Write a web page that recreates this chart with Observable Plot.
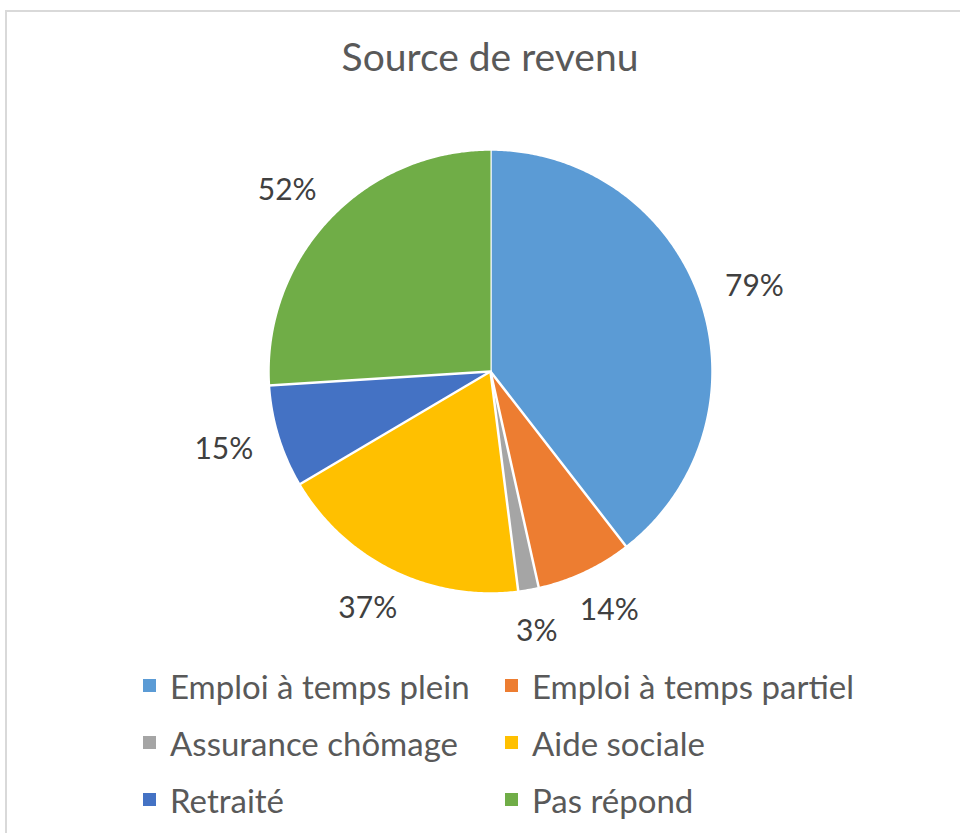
<!DOCTYPE html>
<html>
<head>
<meta charset="utf-8">
<script src="https://cdn.jsdelivr.net/npm/d3@7"></script>
<script src="https://cdn.jsdelivr.net/npm/@observablehq/plot@0.6"></script>
<style>
  html, body { margin: 0; padding: 0; width: 960px; height: 833px; overflow: hidden; background: #fff; font-family: Lato, "Open Sans", sans-serif; }
  #frame { position: absolute; left: 5px; top: 10px; width: 1000px; height: 900px; border: 2px solid #d9d9d9; box-sizing: border-box; }
  #chart { position: absolute; left: 0; top: 0; }
  #title { position: absolute; left: 0; width: 980px; top: 34px; text-align: center; font-size: 39px; color: #595959; line-height: 44px; }
  #legend { position: absolute; left: 143px; top: 657px; display: grid; grid-template-columns: 362px auto; grid-auto-rows: 57px; font-size: 33px; color: #595959; }
  .item { display: flex; align-items: center; white-space: nowrap; }
  .sw { width: 13px; height: 13px; margin-right: 14px; flex: none; }
</style>
</head>
<body>
<div id="frame"></div>
<div id="chart"></div>
<div id="title">Source de revenu</div>
<div id="legend"></div>
<script>
// ---- data ----
const categories = ["Emploi à temps plein", "Emploi à temps partiel", "Assurance chômage", "Aide sociale", "Retraité", "Pas répond"];
const values = [79, 14, 3, 37, 15, 52];
const colors = ["#5B9BD5", "#ED7D31", "#A5A5A5", "#FFC000", "#4472C4", "#70AD47"];
const labelTexts = ["79%", "14%", "3%", "37%", "15%", "52%"];

// ---- layout ----
const W = 960, H = 833;
const cx = 490, cy = 371, rPx = 222;
const labelGapPx = 250;      // distance from centre to the label box anchor
const charW = 19.3, boxH = 28; // approximate label box size in px

const arcs = d3.pie().sort(null).startAngle(0).endAngle(2 * Math.PI)(values);

const pts = [];
arcs.forEach((a, i) => {
  const name = categories[i];
  pts.push({name, x: 0, y: 0});
  const n = Math.max(2, Math.ceil((a.endAngle - a.startAngle) / (Math.PI / 360)));
  for (let k = 0; k <= n; k++) {
    const t = a.startAngle + (a.endAngle - a.startAngle) * k / n;
    pts.push({name, x: Math.sin(t), y: Math.cos(t)});
  }
});

const lbls = arcs.map((a, i) => {
  const m = (a.startAngle + a.endAngle) / 2;
  const s = Math.sin(m), c = Math.cos(m);
  const w = charW * labelTexts[i].length;
  const px = s * labelGapPx + s * w / 2;
  const py = c * labelGapPx + c * boxH / 2;
  return {text: labelTexts[i], x: px / rPx, y: py / rPx};
});

const plot = Plot.plot({
  width: W, height: H, margin: 0,
  style: {background: "transparent", fontFamily: "Lato, 'Open Sans', sans-serif"},
  x: {domain: [-cx / rPx, (W - cx) / rPx], axis: null},
  y: {domain: [(cy - H) / rPx, cy / rPx], axis: null},
  color: {domain: categories, range: colors},
  marks: [
    Plot.line(pts, {x: "x", y: "y", z: "name", fill: "name", stroke: "white", strokeWidth: 2.5, strokeLinejoin: "round"}),
    Plot.text(lbls, {x: "x", y: "y", text: "text", fontSize: 30, fill: "#404040"})
  ]
});
document.getElementById("chart").appendChild(plot);

const lg = document.getElementById("legend");
categories.forEach((c, i) => {
  const d = document.createElement("div");
  d.className = "item";
  d.innerHTML = `<span class="sw" style="background:${colors[i]}"></span><span>${c}</span>`;
  lg.appendChild(d);
});
</script>
</body>
</html>
